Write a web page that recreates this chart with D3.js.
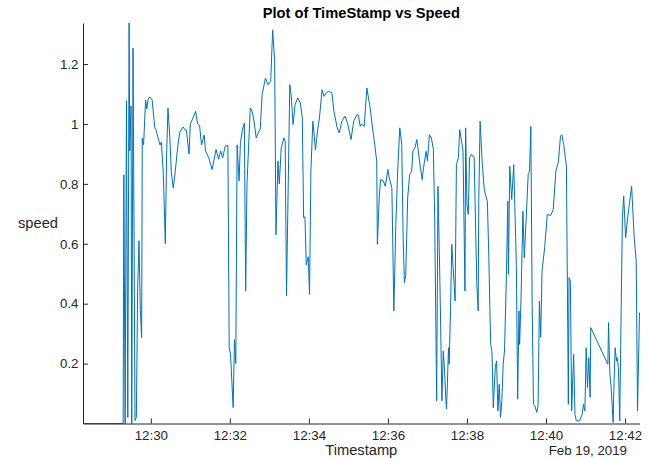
<!DOCTYPE html>
<html>
<head>
<meta charset="utf-8">
<script src="https://cdn.jsdelivr.net/npm/d3@7"></script>
<style>
  html, body { margin: 0; padding: 0; background: #fff; }
  svg { display: block; font-family: "Liberation Sans", Arial, Helvetica, sans-serif; }
</style>
</head>
<body>
<svg id="chart" width="651" height="459"></svg>
<script>
// Recording day and sample timestamps (HH:MM:SS)
const recordDay = "2019-02-19";
const times = [
  "12:28:17","12:29:18","12:29:19","12:29:21","12:29:23","12:29:25","12:29:27","12:29:28","12:29:30","12:29:31",
  "12:29:33","12:29:36","12:29:38","12:29:40","12:29:42","12:29:44","12:29:46","12:29:47","12:29:49","12:29:52",
  "12:29:54","12:29:56","12:29:59","12:30:02","12:30:06","12:30:08","12:30:11","12:30:14","12:30:16","12:30:19",
  "12:30:22","12:30:24","12:30:26","12:30:29","12:30:31","12:30:34","12:30:37","12:30:41","12:30:44","12:30:49",
  "12:30:52","12:30:54","12:30:58","12:31:00","12:31:04","12:31:08","12:31:11","12:31:14","12:31:17","12:31:21",
  "12:31:23","12:31:28","12:31:33","12:31:36","12:31:39","12:31:43","12:31:46","12:31:49","12:31:53","12:31:57",
  "12:31:59","12:32:01","12:32:05","12:32:07","12:32:09","12:32:11","12:32:14","12:32:16","12:32:19","12:32:22",
  "12:32:24","12:32:26","12:32:31","12:32:34","12:32:36","12:32:40","12:32:44","12:32:46","12:32:49","12:32:54",
  "12:32:58","12:33:02","12:33:05","12:33:08","12:33:10","12:33:13","12:33:15","12:33:18","12:33:22","12:33:24",
  "12:33:26","12:33:31","12:33:33","12:33:36","12:33:39","12:33:43","12:33:47","12:33:50","12:33:52","12:33:54",
  "12:33:56","12:33:59","12:34:01","12:34:03","12:34:06","12:34:10","12:34:13","12:34:16","12:34:20","12:34:23",
  "12:34:26","12:34:30","12:34:35","12:34:38","12:34:43","12:34:46","12:34:50","12:34:55","12:34:59","12:35:04",
  "12:35:08","12:35:13","12:35:15","12:35:18","12:35:20","12:35:24","12:35:28","12:35:33","12:35:37","12:35:40",
  "12:35:43","12:35:44","12:35:47","12:35:49","12:35:53","12:35:56","12:36:00","12:36:02","12:36:06","12:36:09",
  "12:36:12","12:36:15","12:36:18","12:36:21","12:36:23","12:36:25","12:36:27","12:36:30","12:36:33","12:36:36",
  "12:36:38","12:36:41","12:36:44","12:36:48","12:36:52","12:36:54","12:36:58","12:37:00","12:37:03","12:37:06",
  "12:37:09","12:37:11","12:37:14","12:37:16","12:37:19","12:37:22","12:37:24","12:37:26","12:37:28","12:37:29",
  "12:37:32","12:37:33","12:37:35","12:37:37","12:37:39","12:37:42","12:37:44","12:37:47","12:37:49","12:37:52",
  "12:37:54","12:37:57","12:37:58","12:38:00","12:38:02","12:38:04","12:38:07","12:38:11","12:38:13","12:38:15",
  "12:38:17","12:38:18","12:38:20","12:38:23","12:38:26","12:38:28","12:38:31","12:38:33","12:38:36","12:38:38",
  "12:38:40","12:38:43","12:38:45","12:38:47","12:38:49","12:38:51","12:38:53","12:38:55","12:38:57","12:39:00",
  "12:39:02","12:39:03","12:39:05","12:39:08","12:39:11","12:39:14","12:39:15","12:39:17","12:39:19","12:39:20",
  "12:39:22","12:39:25","12:39:27","12:39:30","12:39:33","12:39:35","12:39:37","12:39:39","12:39:41","12:39:43",
  "12:39:46","12:39:48","12:39:50","12:39:52","12:39:54","12:39:58","12:40:02","12:40:07","12:40:11","12:40:15",
  "12:40:19","12:40:22","12:40:24","12:40:27","12:40:31","12:40:34","12:40:35","12:40:37","12:40:39","12:40:42",
  "12:40:44","12:40:46","12:40:51","12:40:55","12:40:57","12:40:59","12:41:00","12:41:01","12:41:03","12:41:05",
  "12:41:07","12:41:08","12:41:34","12:41:35","12:41:37","12:41:39","12:41:42","12:41:43","12:41:45","12:41:47",
  "12:41:48","12:41:50","12:41:52","12:41:56","12:41:58","12:42:01","12:42:04","12:42:10","12:42:14","12:42:17",
  "12:42:19","12:42:22"
];
// Measured speed at each timestamp
const speeds = [
  0, 0, 0.83, 0, 1.077, 0.02, 1.337, 0.91, 1.06, 0,
  1.253, 0.01, 0.02, 0.45, 0.61, 0.38, 0.287, 0.953, 0.93, 1.08,
  1.05, 1.085, 1.09, 1.08, 0.987, 0.98, 0.953, 0.93, 0.94, 0.83,
  0.60, 0.90, 1.053, 0.95, 0.84, 0.787, 0.84, 0.927, 0.973, 0.99,
  0.98, 0.978, 0.90, 1.0, 1.02, 1.042, 1.0, 0.995, 0.93, 0.963,
  0.91, 0.887, 0.848, 0.88, 0.915, 0.882, 0.91, 0.887, 0.926, 0.928,
  0.253, 0.231, 0.053, 0.28, 0.2, 0.93, 0.81, 0.937, 0.98, 1.003,
  0.442, 0.80, 1.053, 1.04, 1.02, 0.953, 0.976, 0.98, 1.098, 1.153,
  1.131, 1.142, 1.314, 1.21, 0.63, 0.876, 0.80, 0.92, 0.953, 0.942,
  0.426, 1.131, 1.098, 0.998, 1.064, 1.087, 1.07, 1.02, 0.687, 0.69,
  0.53, 0.557, 0.431, 0.84, 1.009, 0.914, 0.976, 1.02, 1.114, 1.092,
  1.103, 1.109, 1.103, 1.042, 0.987, 0.97, 1.009, 1.026, 1.0, 0.948,
  1.009, 1.031, 1.03, 0.992, 1.0, 0.992, 1.12, 1.053, 0.98, 0.93,
  0.876, 0.598, 0.765, 0.814, 0.81, 0.792, 0.848, 0.82, 0.787, 0.376,
  0.664, 0.853, 0.987, 0.931, 0.63, 0.47, 0.492, 0.753, 0.831, 0.842,
  0.909, 0.92, 0.948, 0.876, 0.814, 0.853, 0.909, 0.876, 0.964, 0.953,
  0.915, 0.687, 0.076, 0.792, 0.464, 0.076, 0.242, 0.176, 0.076, 0.048,
  0.253, 0.198, 0.376, 0.598, 0.52, 0.409, 0.864, 0.887, 0.981, 0.94,
  0.909, 0.442, 0.987, 0.731, 0.698, 0.887, 0.898, 0.887, 0.67, 0.464,
  0.376, 0.753, 1.009, 0.876, 0.787, 0.765, 0.742, 0.576, 0.264, 0.24,
  0.053, 0.187, 0.209, 0.042, 0.131, 0.02, 0.076, 0.198, 0.242, 0.498,
  0.742, 0.498, 0.859, 0.748, 0.864, 0.62, 0.53, 0.081, 0.376, 0.264,
  0.409, 0.709, 0.553, 0.687, 0.831, 0.842, 0.992, 0.398, 0.064, 0.06,
  0.037, 0.06, 0.409, 0.287, 0.509, 0.587, 0.698, 0.694, 0.714, 0.842,
  0.876, 0.959, 0.964, 0.931, 0.859, 0.064, 0.487, 0.476, 0.042, 0.231,
  0.031, 0.009, 0.009, 0.031, 0.064, 0.042, 0.131, 0.253, 0.12, 0.22,
  0.087, 0.32, 0.198, 0.337, 0.164, 0.12, 0.003, 0.11, 0.253, 0.209,
  0.22, 0.187, 0.009, 0.687, 0.759, 0.62, 0.687, 0.792, 0.62, 0.542,
  0.042, 0.37
];
const yTicks = [0.2, 0.4, 0.6, 0.8, 1, 1.2];

const titleText = "Plot of TimeStamp vs Speed";
const xLabelText = "Timestamp";
const yLabelText = "speed";

const parseStamp = d3.timeParse("%Y-%m-%d %H:%M:%S");
const points = times.map((t, i) => ({ t: parseStamp(recordDay + " " + t), v: speeds[i] }));

const svg = d3.select("#chart");
const axisColor = "#262626";
const plotLeft = 83, plotRight = 639.5, plotTop = 23, plotBottom = 423.5;

const x = d3.scaleTime()
  .domain(d3.extent(points, d => d.t))
  .range([plotLeft, plotRight]);
const y = d3.scaleLinear()
  .domain([0, d3.max(speeds)])
  .range([plotBottom, plotTop]);

// Data line
svg.append("path")
  .datum(points)
  .attr("fill", "none")
  .attr("stroke", "#0072BD")
  .attr("stroke-width", 1)
  .attr("stroke-linejoin", "round")
  .attr("d", d3.line().x(d => x(d.t)).y(d => y(d.v)));

// X axis with inward ticks
const xAxis = svg.append("g")
  .attr("transform", `translate(0,${plotBottom})`)
  .call(d3.axisBottom(x)
    .ticks(d3.timeMinute.every(2))
    .tickFormat(d3.timeFormat("%H:%M"))
    .tickSizeInner(-5)
    .tickSizeOuter(0)
    .tickPadding(7));

// Y axis with inward ticks
const yAxis = svg.append("g")
  .attr("transform", `translate(${plotLeft},0)`)
  .call(d3.axisLeft(y)
    .tickValues(yTicks)
    .tickFormat(d => String(+d.toFixed(1)))
    .tickSizeInner(-5)
    .tickSizeOuter(0)
    .tickPadding(4.5));

[xAxis, yAxis].forEach(g => {
  g.selectAll(".domain").attr("stroke", axisColor).attr("stroke-width", 1);
  g.selectAll(".tick line").attr("stroke", axisColor).attr("stroke-width", 1);
  g.selectAll(".tick text")
    .attr("fill", axisColor)
    .style("font-family", "'Liberation Sans', Arial, Helvetica, sans-serif")
    .style("font-size", "13.3px");
});

// Title
svg.append("text")
  .attr("x", (plotLeft + plotRight) / 2)
  .attr("y", 18)
  .attr("text-anchor", "middle")
  .attr("fill", "#000")
  .style("font-size", "14.7px")
  .style("font-weight", "bold")
  .text(titleText);

// Axis labels
svg.append("text")
  .attr("x", (plotLeft + plotRight) / 2)
  .attr("y", 455)
  .attr("text-anchor", "middle")
  .attr("fill", axisColor)
  .style("font-size", "14.7px")
  .text(xLabelText);

svg.append("text")
  .attr("x", 18)
  .attr("y", 227.5)
  .attr("fill", axisColor)
  .style("font-size", "14.7px")
  .text(yLabelText);

// Date of the recording, under the right end of the time axis
svg.append("text")
  .attr("x", 627)
  .attr("y", 455)
  .attr("text-anchor", "end")
  .attr("fill", axisColor)
  .style("font-size", "13.3px")
  .text(d3.timeFormat("%b %d, %Y")(points[0].t));
</script>
</body>
</html>
